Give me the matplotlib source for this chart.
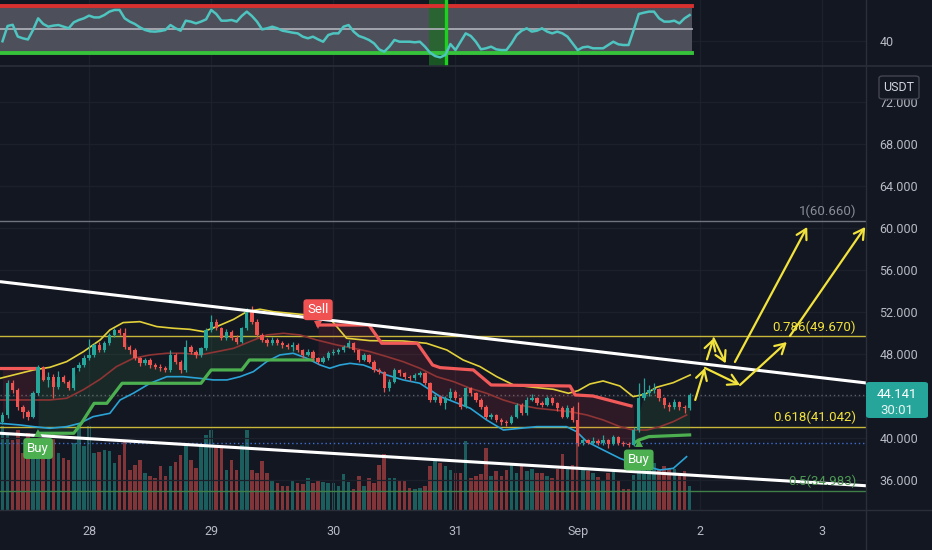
import numpy as np
import matplotlib.pyplot as plt
from matplotlib.patches import FancyBboxPatch
from matplotlib.lines import Line2D

plt.rcParams['font.family'] = ['Roboto', 'DejaVu Sans']

# colours
BG = '#131722'
GRID = '#1c202b'
SEP = '#2a2e39'
AXTXT = '#b8bbc3'
UP = '#26a69a'
DN = '#ef5350'
YEL = '#f2e23c'

# hourly candles, hours counted from 28 Aug 00:00
first_hour = -17
first_open = 41.56
closes = [42.19, 45.21, 44.57, 42.99, 42.51, 42.03, 44.26, 46.80, 45.53, 45.84,
          44.89, 45.84, 45.37, 44.73, 46.64, 46.95, 47.59, 47.91, 48.86, 48.38,
          49.02, 49.81, 50.29, 49.97, 48.70, 48.38, 47.59, 47.11, 47.43, 46.95,
          46.80, 46.64, 46.48, 47.91, 47.27, 46.48, 48.70, 48.22, 47.91, 48.54,
          50.29, 51.08, 50.45, 49.50, 50.13, 49.50, 49.18, 50.45, 52.03, 51.08,
          49.81, 49.34, 49.02, 49.34, 49.02, 48.86, 48.70, 48.86, 48.38, 47.91,
          48.22, 47.59, 47.27, 47.59, 48.07, 48.22, 48.38, 48.70, 49.02, 48.38,
          47.43, 47.91, 47.27, 46.48, 46.32, 44.73, 45.37, 46.48, 46.16, 45.84,
          45.68, 46.00, 46.16, 45.21, 43.62, 43.94, 43.30, 43.78, 44.41, 43.78,
          42.99, 44.73, 44.26, 43.62, 42.99, 42.03, 42.19, 41.72, 41.56, 41.40,
          42.03, 43.14, 42.35, 43.62, 43.78, 43.30, 43.14, 43.78, 43.30, 42.83,
          42.03, 42.83, 41.72, 39.49, 39.81, 39.55, 39.75, 39.49, 39.81, 39.43,
          40.13, 39.55, 39.40, 39.33, 40.76, 43.78, 44.26, 44.57, 44.65, 43.78,
          43.14, 42.99, 43.40, 42.92, 42.83, 44.14]
highs = [42.5, 45.55, 45.5, 44.75, 43.15, 42.7, 44.45, 46.95, 46.9, 46.3,
         46.1, 46.4, 46.0, 45.55, 46.8, 47.2, 47.9, 49.45, 49.0, 49.1,
         49.25, 50.0, 50.5, 50.45, 50.5, 48.9, 48.6, 47.75, 47.6, 47.6,
         47.1, 47.0, 46.9, 48.4, 48.1, 47.4, 49.3, 48.9, 48.4, 48.7,
         50.45, 51.7, 51.3, 50.6, 50.4, 50.3, 49.8, 50.6, 52.4, 52.6,
         51.3, 50.0, 49.5, 49.6, 49.5, 49.2, 49.0, 49.1, 49.0, 48.5,
         48.5, 48.35, 47.75, 47.8, 48.3, 48.45, 48.6, 48.9, 49.3, 49.15,
         48.5, 48.1, 48.0, 47.4, 46.7, 46.4, 45.6, 46.7, 46.6, 46.3,
         46.0, 46.2, 46.4, 46.3, 45.3, 44.2, 44.1, 44.0, 44.8, 44.55,
         43.9, 44.9, 44.9, 44.4, 43.8, 43.1, 42.4, 42.3, 41.9, 41.7,
         42.2, 43.3, 43.3, 43.9, 44.2, 43.95, 43.5, 44.0, 43.95, 43.45,
         43.0, 43.1, 43.0, 43.46, 40.0, 39.95, 40.1, 39.9, 40.3, 39.95,
         40.3, 40.2, 39.7, 39.6, 41.0, 45.2, 45.7, 45.0, 45.2, 44.8,
         43.9, 43.4, 43.7, 43.5, 43.1, 44.3]
lows = [41.3, 41.9, 44.3, 42.7, 41.9, 41.75, 41.9, 44.1, 45.4, 44.9,
        43.8, 44.7, 45.2, 44.55, 44.55, 46.4, 46.8, 47.4, 47.75, 48.2,
        48.2, 48.9, 49.6, 49.8, 48.5, 48.0, 47.4, 46.9, 46.95, 46.7,
        46.6, 46.4, 46.3, 46.3, 47.0, 46.2, 46.3, 48.0, 47.6, 47.75,
        48.4, 50.1, 50.3, 49.3, 49.3, 49.3, 48.95, 49.0, 50.3, 50.9,
        49.6, 49.1, 48.8, 48.9, 48.85, 48.6, 48.5, 48.3, 48.2, 47.6,
        47.8, 47.4, 47.0, 47.1, 47.4, 47.9, 48.0, 48.2, 48.6, 48.2,
        47.2, 47.3, 47.1, 46.3, 46.1, 44.4, 44.5, 45.2, 45.9, 45.6,
        45.4, 45.5, 45.8, 45.0, 43.4, 43.4, 43.1, 42.8, 43.6, 43.6,
        42.8, 42.85, 44.0, 43.4, 42.8, 41.8, 41.8, 41.5, 41.2, 41.1,
        41.3, 41.9, 42.2, 42.2, 43.5, 43.1, 42.95, 43.0, 43.1, 42.6,
        41.9, 41.9, 41.5, 39.2, 39.3, 39.4, 39.4, 39.3, 39.35, 39.0,
        39.3, 39.3, 39.2, 39.1, 39.2, 40.6, 43.6, 44.0, 44.3, 43.5,
        42.9, 42.6, 42.8, 42.7, 42.4, 42.7]
volumes = [84, 75, 70, 80, 57, 77, 64, 66, 70, 57,
           77, 57, 52, 50, 67, 87, 64, 84, 57, 58,
           60, 59, 47, 55, 70, 40, 45, 50, 37, 34,
           32, 44, 34, 44, 48, 55, 67, 50, 42, 65,
           75, 80, 64, 65, 40, 50, 40, 65, 80, 40,
           37, 49, 37, 30, 27, 24, 24, 30, 27, 26,
           32, 27, 29, 28, 27, 27, 24, 36, 28, 21,
           34, 24, 32, 27, 45, 56, 32, 32, 30, 29,
           22, 21, 22, 24, 44, 49, 47, 44, 40, 37,
           37, 69, 32, 34, 36, 62, 34, 39, 34, 40,
           47, 37, 46, 39, 41, 37, 37, 34, 32, 41,
           56, 41, 45, 90, 41, 39, 37, 33, 30, 37,
           39, 30, 21, 21, 35, 50, 57, 47, 47, 41,
           44, 41, 41, 37, 39, 24]
rsi = [40.0, 53.0, 54.0, 44.0, 42.5, 41.5, 49.6, 59.5, 54.7, 52.4,
       53.3, 53.8, 52.4, 51.0, 56.1, 58.1, 59.5, 61.8, 60.3, 60.3,
       62.3, 65.2, 66.6, 66.6, 59.5, 56.7, 54.7, 51.8, 49.6, 48.4,
       48.2, 48.7, 49.6, 53.8, 51.0, 49.0, 57.5, 56.7, 55.2, 56.7,
       58.6, 66.6, 63.2, 57.5, 57.5, 58.1, 56.7, 61.5, 65.2, 61.5,
       56.7, 50.1, 51.0, 52.4, 51.0, 49.0, 48.2, 47.3, 46.7, 43.9,
       42.5, 43.9, 41.6, 39.6, 45.3, 46.7, 46.7, 52.4, 53.8, 48.2,
       44.5, 43.0, 41.1, 38.2, 33.1, 31.1, 35.4, 41.1, 39.6, 39.6,
       39.6, 39.1, 39.6, 35.4, 30.3, 27.4, 26.3, 28.3, 37.6, 32.5,
       39.6, 46.7, 44.5, 39.6, 33.1, 34.0, 35.4, 33.1, 32.5, 32.5,
       38.2, 45.3, 49.0, 51.0, 48.2, 49.0, 51.0, 48.2, 46.7, 48.2,
       46.7, 43.9, 38.2, 32.5, 34.8, 35.4, 34.0, 34.0, 34.0, 36.8,
       39.6, 37.4, 36.8, 36.8, 49.6, 63.2, 64.3, 65.2, 65.2, 59.5,
       56.7, 56.7, 57.5, 55.2, 59.5, 62.3]

day_ticks = [0, 24, 48, 72, 96, 120, 144]
day_labels = ['28', '29', '30', '31', 'Sep', '2', '3']
price_ticks = [36, 40, 44, 48, 52, 56, 60, 64, 68, 72]
last_price = 44.141
countdown = '30:01'

# bollinger bands (hour, price)
bb_up_h = [-17.5, -10.9, -7.7, -4.4, -1.1, 2.2, 4.1, 6.7, 10.0, 13.3, 16.6, 19.8, 22.5, 25.1,
           28.4, 31.0, 33.6, 36.2, 39.5, 42.8, 47.3, 50.6, 55.2, 61.7, 66.3, 70.3, 73.5, 76.8,
           80.1, 83.4, 87.3, 91.2, 94.2, 96.1, 98.4, 101.0, 104.3, 106.9, 109.2, 111.5, 114.8, 118.1]
bb_up = [45.68, 46.48, 46.73, 47.27, 48.22, 49.34, 50.29, 50.99, 51.08, 50.61, 50.45, 50.35, 50.13, 50.61,
         51.30, 52.03, 52.26, 52.03, 51.88, 51.72, 51.40, 49.50, 49.27, 49.24, 49.02, 48.38, 47.43, 46.80,
         45.84, 45.05, 44.83, 44.64, 44.26, 44.51, 45.14, 45.43, 44.95, 43.94, 44.16, 44.83, 45.27, 46.00]
bb_lo_h = [-17.5, -13.6, -10.9, -7.7, -4.4, -1.8, 0.8, 4.1, 6.1, 8.7, 12.0, 15.3, 18.5, 21.8, 24.4,
           27.1, 29.7, 32.3, 34.9, 37.5, 40.1, 42.8, 45.4, 47.3, 49.3, 51.3, 53.9, 56.5, 58.5, 61.7,
           65.0, 67.0, 69.0, 71.6, 74.9, 78.1, 81.4, 84.7, 88.0, 93.8, 95.8, 97.8, 101.0, 104.3,
           106.9, 109.6, 112.2, 114.8, 117.4]
bb_lo = [41.40, 41.24, 41.08, 40.92, 41.08, 41.40, 42.03, 42.35, 43.62, 44.26, 45.21, 45.84, 45.84, 45.68,
         45.53, 45.53, 45.84, 46.32, 47.27, 47.91, 48.07, 47.59, 46.95, 46.64, 46.95, 47.11, 46.95, 46.48,
         46.00, 45.53, 45.21, 44.57, 43.94, 43.46, 42.83, 41.72, 40.76, 40.92, 41.08, 41.08, 40.60, 39.65,
         38.86, 38.06, 37.59, 37.27, 36.95, 37.11, 38.22]
bb_mid_h = [-17.5, -7.7, -4.4, -1.1, 2.2, 5.4, 8.7, 12.0, 15.3, 18.5, 21.8, 25.1, 28.4, 31.6, 34.9,
            38.2, 41.5, 44.7, 48.7, 52.0, 55.2, 58.5, 61.7, 65.0, 68.3, 71.6, 74.9, 78.1, 81.4, 84.7,
            88.0, 91.2, 94.5, 97.8, 101.0, 104.3, 106.9, 109.6, 112.2, 114.8, 117.4]
bb_mid = [43.62, 43.62, 43.78, 44.60, 45.60, 46.80, 47.59, 47.91, 48.07, 48.07, 47.91, 48.22, 48.54, 49.18,
          49.81, 49.97, 49.81, 49.34, 48.86, 48.54, 48.22, 47.75, 47.27, 46.64, 45.84, 45.37, 44.73, 44.26,
          43.62, 43.14, 42.83, 42.67, 42.51, 42.19, 41.72, 41.08, 40.76, 40.76, 41.08, 41.56, 42.19]

# supertrend steps
st_dn1_h = [-17.5, -10.5]
st_dn1 = [46.64, 46.64]
st_up1_h = [-10, -3, -1.5, 1, 3.5, 6.5, 22, 24, 30, 31.5, 44]
st_up1 = [40.45, 40.45, 41.4, 43.3, 43.3, 45.21, 45.21, 46.48, 46.48, 47.43, 47.43]
st_dn2_h = [45, 55, 57.5, 64.5, 67.5, 69, 75.5, 79, 94.5, 95.5, 99, 106.5]
st_dn2 = [50.76, 50.76, 49.02, 49.02, 46.95, 46.7, 46.48, 45.05, 44.95, 44.10, 44.0, 43.05]
st_up2_h = [107, 108, 110, 118]
st_up2 = [39.49, 39.8, 40.13, 40.29]
signals = [('Buy', -10, 40.45), ('Sell', 45, 50.76), ('Buy', 108, 39.49)]

# drawings
fib_levels = [1.0, 0.786, 0.618, 0.5]
fib_prices = [60.660, 49.670, 41.042, 34.983]
fib_line_colors = ['#6f737e', '#c9b739', '#c9b739', '#3f7f48']
fib_text_colors = ['#8a8d96', YEL, YEL, '#4c9a52']
trend_upper = [(-17.5, 54.89), (152.7, 45.24)]
trend_lower = [(-17.5, 40.45), (152.7, 35.45)]
arrows = [((119.1, 43.62), (121.0, 46.67)),
          ((121.0, 46.67), (127.9, 45.05)),
          ((127.9, 45.05), (137.1, 49.14)),
          ((126.9, 47.24), (141.1, 60.10)),
          ((137.7, 49.71), (152.5, 60.10)),
          ((121.4, 47.49), (122.7, 49.49)),
          ((122.7, 49.49), (125.1, 47.11))]

hours = np.arange(first_hour, first_hour + len(closes))
closes_a = np.array(closes)
opens_a = np.array([first_open] + closes[:-1])
cols = np.where(closes_a >= opens_a, UP, DN)

W, H = 932, 550
xlim = (-17.49, 152.65)
fig = plt.figure(figsize=(W / 100, H / 100), dpi=100, facecolor=BG)
rect_main = [0, 40 / H, 866 / W, 444 / H]
ax_vol = fig.add_axes(rect_main, zorder=0)
ax = fig.add_axes(rect_main, zorder=1)
ax_rsi = fig.add_axes([0, 484 / H, 866 / W, 66 / H], zorder=1)

ax_vol.set_facecolor(BG)
ax.set_facecolor('none')
ax_rsi.set_facecolor(BG)
for a in (ax_vol, ax, ax_rsi):
    a.set_xlim(*xlim)
    a.set_axisbelow(True)
    for s in a.spines.values():
        s.set_visible(False)

# volume
ax_vol.bar(hours, volumes, width=0.7, color=cols, alpha=0.5, lw=0)
ax_vol.set_ylim(0, 444)
ax_vol.set_xticks([])
ax_vol.set_yticks([])

# main price pane
ax.set_ylim(33.14, 75.43)
ax.set_xticks(day_ticks)
ax.set_xticklabels(day_labels)
ax.yaxis.tick_right()
ax.set_yticks(price_ticks)
# the 44 label sits under the last-price tag
ax.set_yticklabels(['' if p == 44 else f'{p}.000' for p in price_ticks])
ax.tick_params(axis='both', length=0, colors=AXTXT, labelsize=9)
ax.tick_params(axis='y', pad=9.5)
ax.tick_params(axis='x', pad=11)
ax.grid(color=GRID, lw=0.9)

for p, lc in zip(fib_prices, fib_line_colors):
    ax.axhline(p, color=lc, lw=1.0, zorder=1.5)
for lvl, p, tc in zip(fib_levels, fib_prices, fib_text_colors):
    ax.annotate(f'{lvl:g}({p:.3f})', xy=(150.7, p), xytext=(0, 2), textcoords='offset points',
                ha='right', va='bottom', color=tc, fontsize=9.5, zorder=8)
ax.axhline(last_price, color='#5d606b', lw=1, ls=(0, (1, 2)), zorder=1.5)
ax.axhline(39.55, color='#3b6fd1', lw=1, ls=(0, (1, 2)), zorder=1.5)

# supertrend fills + lines
mids = (opens_a + closes_a) / 2
for sh, sv, c in [(st_dn1_h, st_dn1, '#f23645'), (st_up1_h, st_up1, '#4caf50'),
                  (st_dn2_h, st_dn2, '#f23645'), (st_up2_h, st_up2, '#4caf50')]:
    m = (hours >= sh[0] - 0.5) & (hours <= sh[-1] + 0.5)
    line = np.interp(hours[m], sh, sv)
    ax.fill_between(hours[m], line, mids[m], color=c, alpha=0.12, lw=0, zorder=1.8)
    ax.plot(sh, sv, color=c if c != '#f23645' else '#f25a5a', lw=2.3, zorder=3,
            solid_joinstyle='round')

# bollinger bands
ax.plot(bb_up_h, bb_up, color='#e3d13a', lw=1.2, zorder=2.5)
ax.plot(bb_lo_h, bb_lo, color='#2aa3d6', lw=1.2, zorder=2.5)
ax.plot(bb_mid_h, bb_mid, color='#8e3434', lw=1.2, zorder=2.5)

# candles
ax.vlines(hours, lows, highs, colors=cols, lw=0.9, zorder=4)
body_lo = np.minimum(opens_a, closes_a)
body_h = np.maximum(np.abs(closes_a - opens_a), 0.06)
ax.bar(hours, body_h, bottom=body_lo, width=0.66, color=cols, lw=0, zorder=4.1)

# trend lines
for tl in (trend_upper, trend_lower):
    ax.plot([tl[0][0], tl[1][0]], [tl[0][1], tl[1][1]], color='white', lw=2.2, zorder=5,
            solid_capstyle='butt')

# arrows
for (h0, p0), (h1, p1) in arrows:
    ax.annotate('', xy=(h1, p1), xytext=(h0, p0),
                arrowprops=dict(arrowstyle='->,head_length=0.7,head_width=0.4', color=YEL,
                                lw=1.6, shrinkA=0, shrinkB=0), zorder=6)

# buy / sell labels
for name, h, p in signals:
    c = '#4caf50' if name == 'Buy' else '#f05252'
    dy = -11 if name == 'Buy' else 11
    if name == 'Buy' and h > 50:
        dy = -12
    ax.annotate(name, xy=(h, p), xytext=(0, dy), textcoords='offset points', ha='center',
                va='center', color='white', fontsize=9.5, zorder=8,
                bbox=dict(boxstyle='round,pad=0.3,rounding_size=0.25', fc=c, ec='none'))
    ax.plot(h, p, marker='^' if name == 'Buy' else 'v', ms=6, color=c, zorder=7.9, mew=0)

# RSI pane
ax_rsi.set_ylim(18.94, 75.1)
band_x = [xlim[0], hours[-1] + 0.5]
ax_rsi.fill_between(band_x, 30, 70, color='#4d505a', lw=0, zorder=1)
ax_rsi.axvspan(66.8, 70.1, color='#1d6b25', alpha=0.75, lw=0, zorder=1.2)
ax_rsi.plot(band_x, [70, 70], color='#d8302f', lw=2.8, zorder=2)
ax_rsi.plot(band_x, [30, 30], color='#36c23a', lw=2.8, zorder=2)
ax_rsi.plot(band_x, [50, 50], color='#a9acb4', lw=1.3, zorder=2)
ax_rsi.axvline(70.1, color='#1fd11f', lw=2.4, zorder=2.5)
ax_rsi.plot(hours, rsi, color='#4ec5c1', lw=1.8, zorder=3)
ax_rsi.set_xticks(day_ticks)
ax_rsi.set_xticklabels([])
ax_rsi.yaxis.tick_right()
ax_rsi.set_yticks([40])
ax_rsi.set_yticklabels(['40'])
ax_rsi.tick_params(axis='both', length=0, colors=AXTXT, labelsize=9)
ax_rsi.tick_params(axis='y', pad=9.5)
ax_rsi.grid(color=GRID, lw=0.9)

# pane separators
fig.add_artist(Line2D([0, 1], [484 / H] * 2, color=SEP, lw=1.2, transform=fig.transFigure))
fig.add_artist(Line2D([0, 1], [40 / H] * 2, color=SEP, lw=1.0, transform=fig.transFigure))
fig.add_artist(Line2D([866 / W] * 2, [0, 1], color=SEP, lw=1.0, transform=fig.transFigure))

# last price tag and currency box
fig.add_artist(FancyBboxPatch((866 / W, (H - 418) / H), 62 / W, 36 / H,
                              boxstyle='round,pad=0,rounding_size=0.004', fc='#26a69a', ec='none',
                              transform=fig.transFigure, zorder=5))
fig.text(897 / W, (H - 394) / H, f'{last_price:.3f}', color='white', fontsize=9.5,
         ha='center', va='center', zorder=6)
fig.text(897 / W, (H - 410) / H, countdown, color='#e8f5f3', fontsize=9.5,
         ha='center', va='center', zorder=6)
fig.add_artist(FancyBboxPatch((879 / W, (H - 99) / H), 40 / W, 23 / H,
                              boxstyle='round,pad=0,rounding_size=0.004', fc=BG, ec='#434651', lw=1,
                              transform=fig.transFigure, zorder=5))
fig.text(899 / W, (H - 87.5) / H, 'USDT', color='#d1d4dc', fontsize=9,
         ha='center', va='center', zorder=6)

fig.savefig('out.png', dpi=100, facecolor=BG)
